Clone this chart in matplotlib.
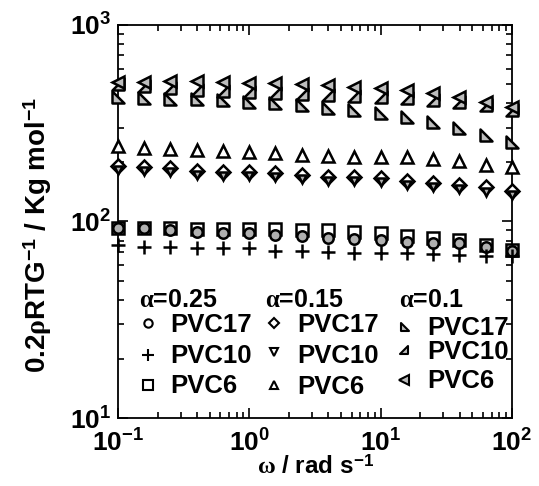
import numpy as np
import matplotlib
matplotlib.use("Agg")
import matplotlib.pyplot as plt
from matplotlib.path import Path

plt.rcParams['font.family'] = ['Liberation Sans', 'DejaVu Sans']
plt.rcParams['font.weight'] = 'bold'
plt.rcParams['mathtext.fontset'] = 'custom'
plt.rcParams['mathtext.bf'] = 'Liberation Sans:bold'
plt.rcParams['mathtext.rm'] = 'Liberation Sans:bold'
plt.rcParams['mathtext.it'] = 'Liberation Serif'

# frequency (rad/s)
omega = [0.1, 0.158, 0.251, 0.398, 0.631, 1.0, 1.58, 2.51, 3.98, 6.31,
         10.0, 15.8, 25.1, 39.8, 63.1, 100.0]

# alpha = 0.25
a25_pvc17 = [93.0, 92.7, 90.5, 88.7, 87.7, 87.4, 85.4, 84.4, 82.7, 81.2,
             80.5, 78.9, 78.0, 77.5, 74.4, 71.0]
a25_pvc10 = [75.9, 74.4, 74.2, 73.3, 73.3, 73.3, 71.0, 70.8, 70.2, 69.4,
             68.9, 68.9, 68.3, 67.5, 66.7, 66.7]
a25_pvc6 = [93.0, 92.7, 92.7, 92.1, 91.6, 91.6, 91.6, 91.0, 90.0, 88.9,
            87.4, 84.4, 82.4, 80.5, 75.9, 71.6]

# alpha = 0.15
a15_pvc17 = [191.6, 189.4, 187.2, 181.4, 179.3, 179.0, 176.6, 172.5, 169.0, 168.0,
             166.0, 161.3, 157.6, 153.4, 149.3, 143.4]
a15_pvc10 = [183.0, 181.0, 179.0, 173.0, 171.0, 171.0, 168.0, 165.0, 161.0, 160.0,
             158.0, 154.0, 150.0, 146.0, 142.0, 137.0]
a15_pvc6 = [242.0, 237.0, 234.0, 231.0, 228.5, 226.6, 223.0, 218.0, 216.0, 214.0,
            214.0, 212.0, 208.0, 204.0, 194.0, 189.0]

# alpha = 0.1
a10_pvc17 = [428.7, 425.0, 420.0, 418.0, 415.0, 408.0, 402.0, 392.0, 378.0, 369.0,
             357.0, 340.0, 321.0, 299.0, 276.0, 254.0]
a10_pvc10 = [501.0, 489.0, 478.0, 467.0, 459.0, 456.0, 452.0, 448.0, 440.0, 435.0,
             428.0, 423.0, 413.0, 406.0, 392.0, 369.0]
a10_pvc6 = [510.0, 513.0, 516.0, 516.0, 513.0, 507.0, 504.0, 501.0, 495.0, 486.0,
            478.0, 467.0, 451.0, 430.0, 408.0, 382.0]

x_ticks = [0.1, 1, 10, 100]
x_ticklabels = [r'$\mathbf{10^{-1}}$', r'$\mathbf{10^{0}}$', r'$\mathbf{10^{1}}$', r'$\mathbf{10^{2}}$']
y_ticks = [10, 100, 1000]
y_ticklabels = [r'$\mathbf{10^{1}}$', r'$\mathbf{10^{2}}$', r'$\mathbf{10^{3}}$']

# custom right-angle triangle markers
tri_ll = Path([(-1, 1), (-1, -1), (1, -1), (-1, 1)],
              [Path.MOVETO, Path.LINETO, Path.LINETO, Path.CLOSEPOLY])
tri_lr = Path([(1, 1), (1, -1), (-1, -1), (1, 1)],
              [Path.MOVETO, Path.LINETO, Path.LINETO, Path.CLOSEPOLY])

W, H = 539, 486
fig = plt.figure(figsize=(W / 100, H / 100), dpi=100)
L, R, T, B = 118, 512, 25, 418
ax = fig.add_axes([L / W, 1 - B / H, (R - L) / W, (B - T) / H])
ax.set_xscale('log')
ax.set_yscale('log')
ax.set_xlim(0.1, 100)
ax.set_ylim(10, 1000)

gray = '#bdbdbd'
dgray = '#b0b0b0'
series = [
    (a25_pvc6, 's', 'white', 9),
    (a25_pvc17, 'o', dgray, 7.5),
    (a25_pvc10, '+', 'none', 10),
    (a15_pvc6, '^', 'white', 8.5),
    (a15_pvc17, 'D', 'white', 7),
    (a15_pvc10, 'v', dgray, 6),
    (a10_pvc17, tri_ll, gray, 8),
    (a10_pvc10, tri_lr, gray, 8),
    (a10_pvc6, '<', gray, 9),
]
for vals, m, fc, ms in series:
    ax.plot(omega, vals, linestyle='none', marker=m, markersize=ms,
            markerfacecolor=fc, markeredgecolor='black', markeredgewidth=1.8,
            color='black', clip_on=False, zorder=3)

ax.set_xticks(x_ticks)
ax.set_xticklabels(x_ticklabels, fontsize=19)
ax.set_yticks(y_ticks)
ax.set_yticklabels(y_ticklabels, fontsize=19)
ax.tick_params(which='both', direction='in', top=True, right=True, width=1.2)
ax.tick_params(which='major', length=7)
ax.tick_params(axis='x', which='major', pad=8)
ax.tick_params(axis='y', which='major', pad=5)
ax.tick_params(which='minor', length=4)
for s in ax.spines.values():
    s.set_linewidth(1.3)

fig.text(316 / W, 1 - 467 / H, r'$\omega$ / rad s$^{-1}$', fontsize=17.5,
         ha='center', va='center')
fig.text(38 / W, 1 - 235 / H, r'0.2$\rho$RTG$^{-1}$ / Kg mol$^{-1}$',
         fontsize=20, ha='center', va='center', rotation=90)

# legend (manual)
def px(xp, yp):
    return ((xp - L) / (R - L), (B - yp) / (B - T))

titles = [(r'$\alpha$=0.25', 139, 300),
          (r'$\alpha$=0.15', 265, 300),
          (r'$\alpha$=0.1', 399, 300)]
for t, xp, yp in titles:
    ax.text(*px(xp, yp), t, transform=ax.transAxes, fontsize=18, ha='left', va='center')

entries = [
    ('o', 'white', 6, 148, 323, 'PVC17', 170, 325),
    ('+', 'none', 8, 148, 355, 'PVC10', 170, 356),
    ('s', 'white', 7, 148, 385, 'PVC6', 170, 386),
    ('D', 'white', 5.5, 274, 323, 'PVC17', 297, 325),
    ('v', 'white', 6, 274, 352, 'PVC10', 297, 356),
    ('^', 'white', 6, 274, 385, 'PVC6', 297, 387),
    (tri_ll, gray, 6, 405, 327, 'PVC17', 427, 328),
    (tri_lr, gray, 6, 404, 350, 'PVC10', 427, 352),
    ('<', gray, 6.5, 404, 380, 'PVC6', 427, 381),
]
for m, fc, ms, mx, my, lab, tx, ty in entries:
    ax.plot(*[[v] for v in px(mx, my)], transform=ax.transAxes, linestyle='none',
            marker=m, markersize=ms, markerfacecolor=fc, markeredgecolor='black',
            markeredgewidth=1.5, color='black')
    ax.text(*px(tx, ty), lab, transform=ax.transAxes, fontsize=18.5, ha='left', va='center')

fig.savefig('out.png', dpi=100)
